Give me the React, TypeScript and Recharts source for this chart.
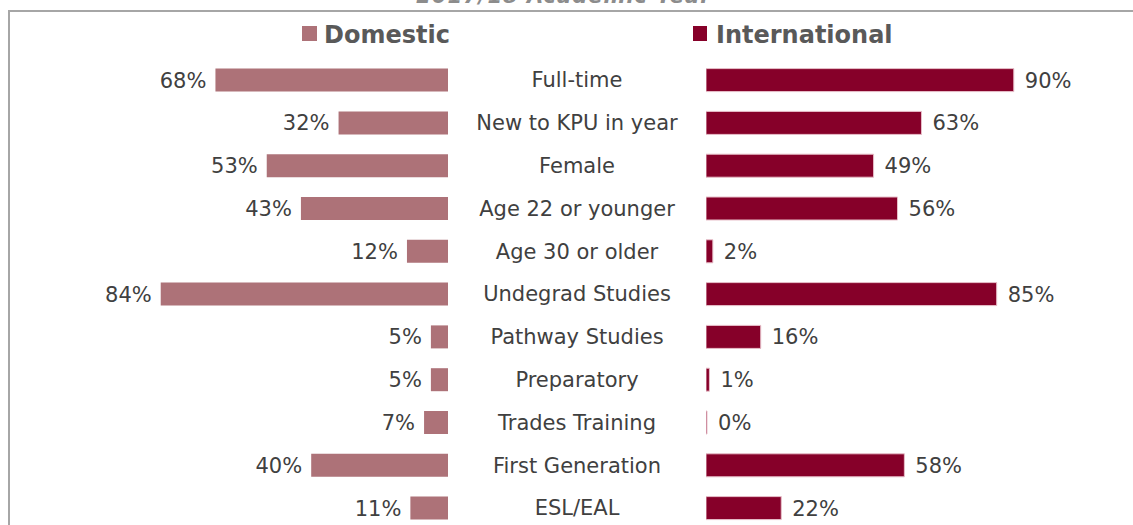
import { BarChart, Bar, XAxis, YAxis, LabelList } from "recharts";

const categories = [
  "Full-time",
  "New to KPU in year",
  "Female",
  "Age 22 or younger",
  "Age 30 or older",
  "Undegrad Studies",
  "Pathway Studies",
  "Preparatory",
  "Trades Training",
  "First Generation",
  "ESL/EAL",
];

const domestic = [68, 32, 53, 43, 12, 84, 5, 5, 7, 40, 11];
const international = [90, 63, 49, 56, 2, 85, 16, 1, 0, 58, 22];

const seriesNames = ["Domestic", "International"];
const title = "2017/18 Academic Year";

const data = categories.map((name, i) => ({
  name,
  domestic: domestic[i],
  international: international[i],
}));

const FONT = "'DejaVu Sans', Verdana, sans-serif";
const DOM_COLOR = "#ad7278";
const INT_COLOR = "#860029";
const TEXT = "#404040";
const FS = 21;

function box(props: any) {
  const vb = props.viewBox && props.viewBox.width !== undefined ? props.viewBox : props;
  const x1 = Math.min(vb.x, vb.x + vb.width);
  const x2 = Math.max(vb.x, vb.x + vb.width);
  return { x1, x2, cy: vb.y + vb.height / 2 };
}

const LeftLabel = (props: any) => {
  const { x1, cy } = box(props);
  return (
    <text x={x1 - 9} y={cy} dy="0.355em" textAnchor="end" fontSize={FS} fill={TEXT} fontFamily={FONT}>
      {props.value}%
    </text>
  );
};

const RightLabel = (props: any) => {
  const { x2, cy } = box(props);
  return (
    <text x={x2 + 11} y={cy} dy="0.355em" textAnchor="start" fontSize={FS} fill={TEXT} fontFamily={FONT}>
      {props.value}%
    </text>
  );
};

// category names sit in the gap between the two halves
const CategoryTick = (props: any) => {
  const { x, y, payload } = props;
  return (
    <text x={x} y={y} dy="0.355em" textAnchor="middle" fontSize={FS} fill={TEXT} fontFamily={FONT}>
      {payload.value}
    </text>
  );
};

export default function App() {
  return (
    <div
      style={{
        position: "absolute",
        left: 0,
        top: 0,
        width: 1133,
        height: 525,
        overflow: "hidden",
        background: "#fff",
        fontFamily: FONT,
      }}
    >
      <div style={{ position: "absolute", left: 0, top: 0 }}>
        <BarChart
          width={706}
          height={540}
          data={data}
          layout="vertical"
          margin={{ top: 58.6, bottom: 10.6, left: 106, right: 0 }}
        >
          <XAxis type="number" domain={[0, 100]} reversed hide />
          <YAxis
            type="category"
            dataKey="name"
            orientation="right"
            width={258}
            tickLine={false}
            axisLine={false}
            tickSize={0}
            tickMargin={129}
            tick={<CategoryTick />}
            interval={0}
          />
          <Bar dataKey="domestic" fill={DOM_COLOR} barSize={23} isAnimationActive={false}>
            <LabelList dataKey="domestic" content={<LeftLabel />} />
          </Bar>
        </BarChart>
      </div>

      <div style={{ position: "absolute", left: 706, top: 0 }}>
        <BarChart
          width={427}
          height={540}
          data={data}
          layout="vertical"
          margin={{ top: 58.6, bottom: 10.6, left: 0, right: 85 }}
        >
          <XAxis type="number" domain={[0, 100]} hide />
          <YAxis type="category" dataKey="name" hide />
          <Bar
            dataKey="international"
            fill={INT_COLOR}
            stroke="#e7bfc9"
            strokeWidth={1}
            barSize={23}
            minPointSize={1}
            isAnimationActive={false}
          >
            <LabelList dataKey="international" content={<RightLabel />} />
          </Bar>
        </BarChart>
      </div>

      <svg
        width={1133}
        height={525}
        style={{ position: "absolute", left: 0, top: 0, pointerEvents: "none", overflow: "visible" }}
      >
        <text
          x={564}
          y={3}
          textAnchor="middle"
          fontSize={21}
          fontWeight="bold"
          fontStyle="italic"
          letterSpacing={1}
          fill="#8c8c8c"
          fontFamily={FONT}
        >
          {title}
        </text>
        <line x1={8} y1={11} x2={1133} y2={11} stroke="#a6a6a6" strokeWidth={2} />
        <line x1={9} y1={10} x2={9} y2={525} stroke="#a6a6a6" strokeWidth={2} />

        <rect x={302} y={26} width={15} height={15} fill={DOM_COLOR} />
        <text x={324} y={43} fontSize={24} fontWeight="bold" fill="#595959" fontFamily={FONT}>
          {seriesNames[0]}
        </text>
        <rect x={693} y={26} width={14} height={15} fill={INT_COLOR} />
        <text x={716} y={43} fontSize={24} fontWeight="bold" fill="#595959" fontFamily={FONT}>
          {seriesNames[1]}
        </text>
      </svg>
    </div>
  );
}
